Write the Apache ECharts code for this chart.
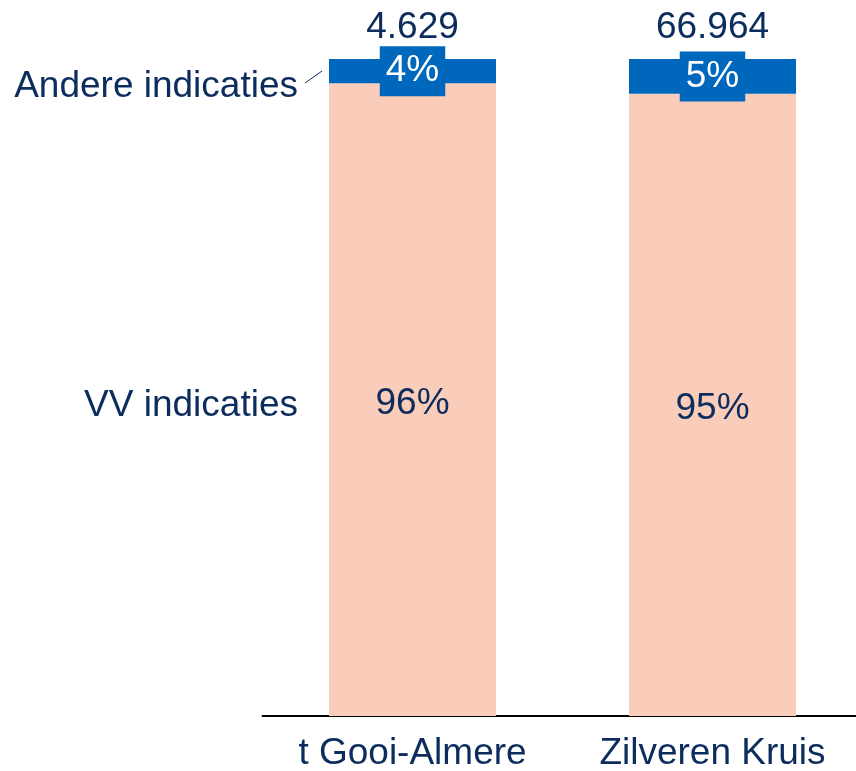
<!DOCTYPE html>
<html>
<head>
<meta charset="utf-8">
<script src="https://cdn.jsdelivr.net/npm/echarts@6/dist/echarts.min.js"></script>
<style>
  html, body { margin: 0; padding: 0; background: #fff; }
  #chart { width: 856px; height: 771px; }
</style>
</head>
<body>
<div id="chart"></div>
<script>
// categorieen en waarden (aandeel in %)
let categories = ["t Gooi-Almere", "Zilveren Kruis"];
let vvShare = [96.3, 94.7];
let andereShare = [3.7, 5.3];
let vvLabels = ["96%", "95%"];
let andereLabels = ["4%", "5%"];
let totals = ["4.629", "66.964"];

let navy = "#0B2C5C";
let blue = "#0068BC";
let peach = "#F9CDB9";
let font = "Liberation Sans, Arial, sans-serif";

let myChart = echarts.init(document.getElementById("chart"));

myChart.setOption({
    animation: false,
    grid: {
        left: 262.5,
        top: 59,
        bottom: 55,
        width: 600,
        outerBoundsMode: "none"
    },
    xAxis: {
        type: "category",
        data: categories,
        axisTick: { show: false },
        axisLine: { lineStyle: { color: "#000", width: 2 } },
        axisLabel: {
            color: navy,
            fontSize: 37,
            fontFamily: font,
            margin: 19
        }
    },
    yAxis: {
        type: "value",
        min: 0,
        max: 100,
        show: false,
        splitLine: { show: false }
    },
    series: [
        {
            name: "VV indicaties",
            type: "bar",
            stack: "s",
            barWidth: 167,
            data: vvShare,
            itemStyle: { color: peach },
            label: {
                show: true,
                position: "inside",
                offset: [0, 4],
                color: navy,
                fontSize: 37,
                fontFamily: font,
                formatter: p => vvLabels[p.dataIndex]
            }
        },
        {
            name: "Andere indicaties",
            type: "bar",
            stack: "s",
            data: andereShare,
            itemStyle: { color: blue },
            label: {
                show: true,
                position: "inside",
                color: "#fff",
                fontSize: 37,
                lineHeight: 36,
                fontFamily: font,
                backgroundColor: blue,
                padding: [9, 6, 5, 6],
                formatter: p => andereLabels[p.dataIndex]
            }
        },
        {
            name: "totaal",
            type: "bar",
            stack: "s",
            data: [0, 0],
            itemStyle: { color: "transparent" },
            label: {
                show: true,
                position: "top",
                distance: 13,
                color: navy,
                fontSize: 37,
                fontFamily: font,
                formatter: p => totals[p.dataIndex]
            }
        }
    ],
    graphic: [
        {
            type: "text",
            right: 558,
            top: 68,
            style: { text: "Andere indicaties", fill: navy, font: "37px " + font }
        },
        {
            type: "line",
            shape: { x1: 305, y1: 83, x2: 322, y2: 71 },
            style: { stroke: navy, lineWidth: 1 }
        },
        {
            type: "text",
            right: 558,
            top: 387,
            style: { text: "VV indicaties", fill: navy, font: "37px " + font }
        }
    ]
});

window.addEventListener("resize", function () {
    myChart.resize();
});
</script>
</body>
</html>
